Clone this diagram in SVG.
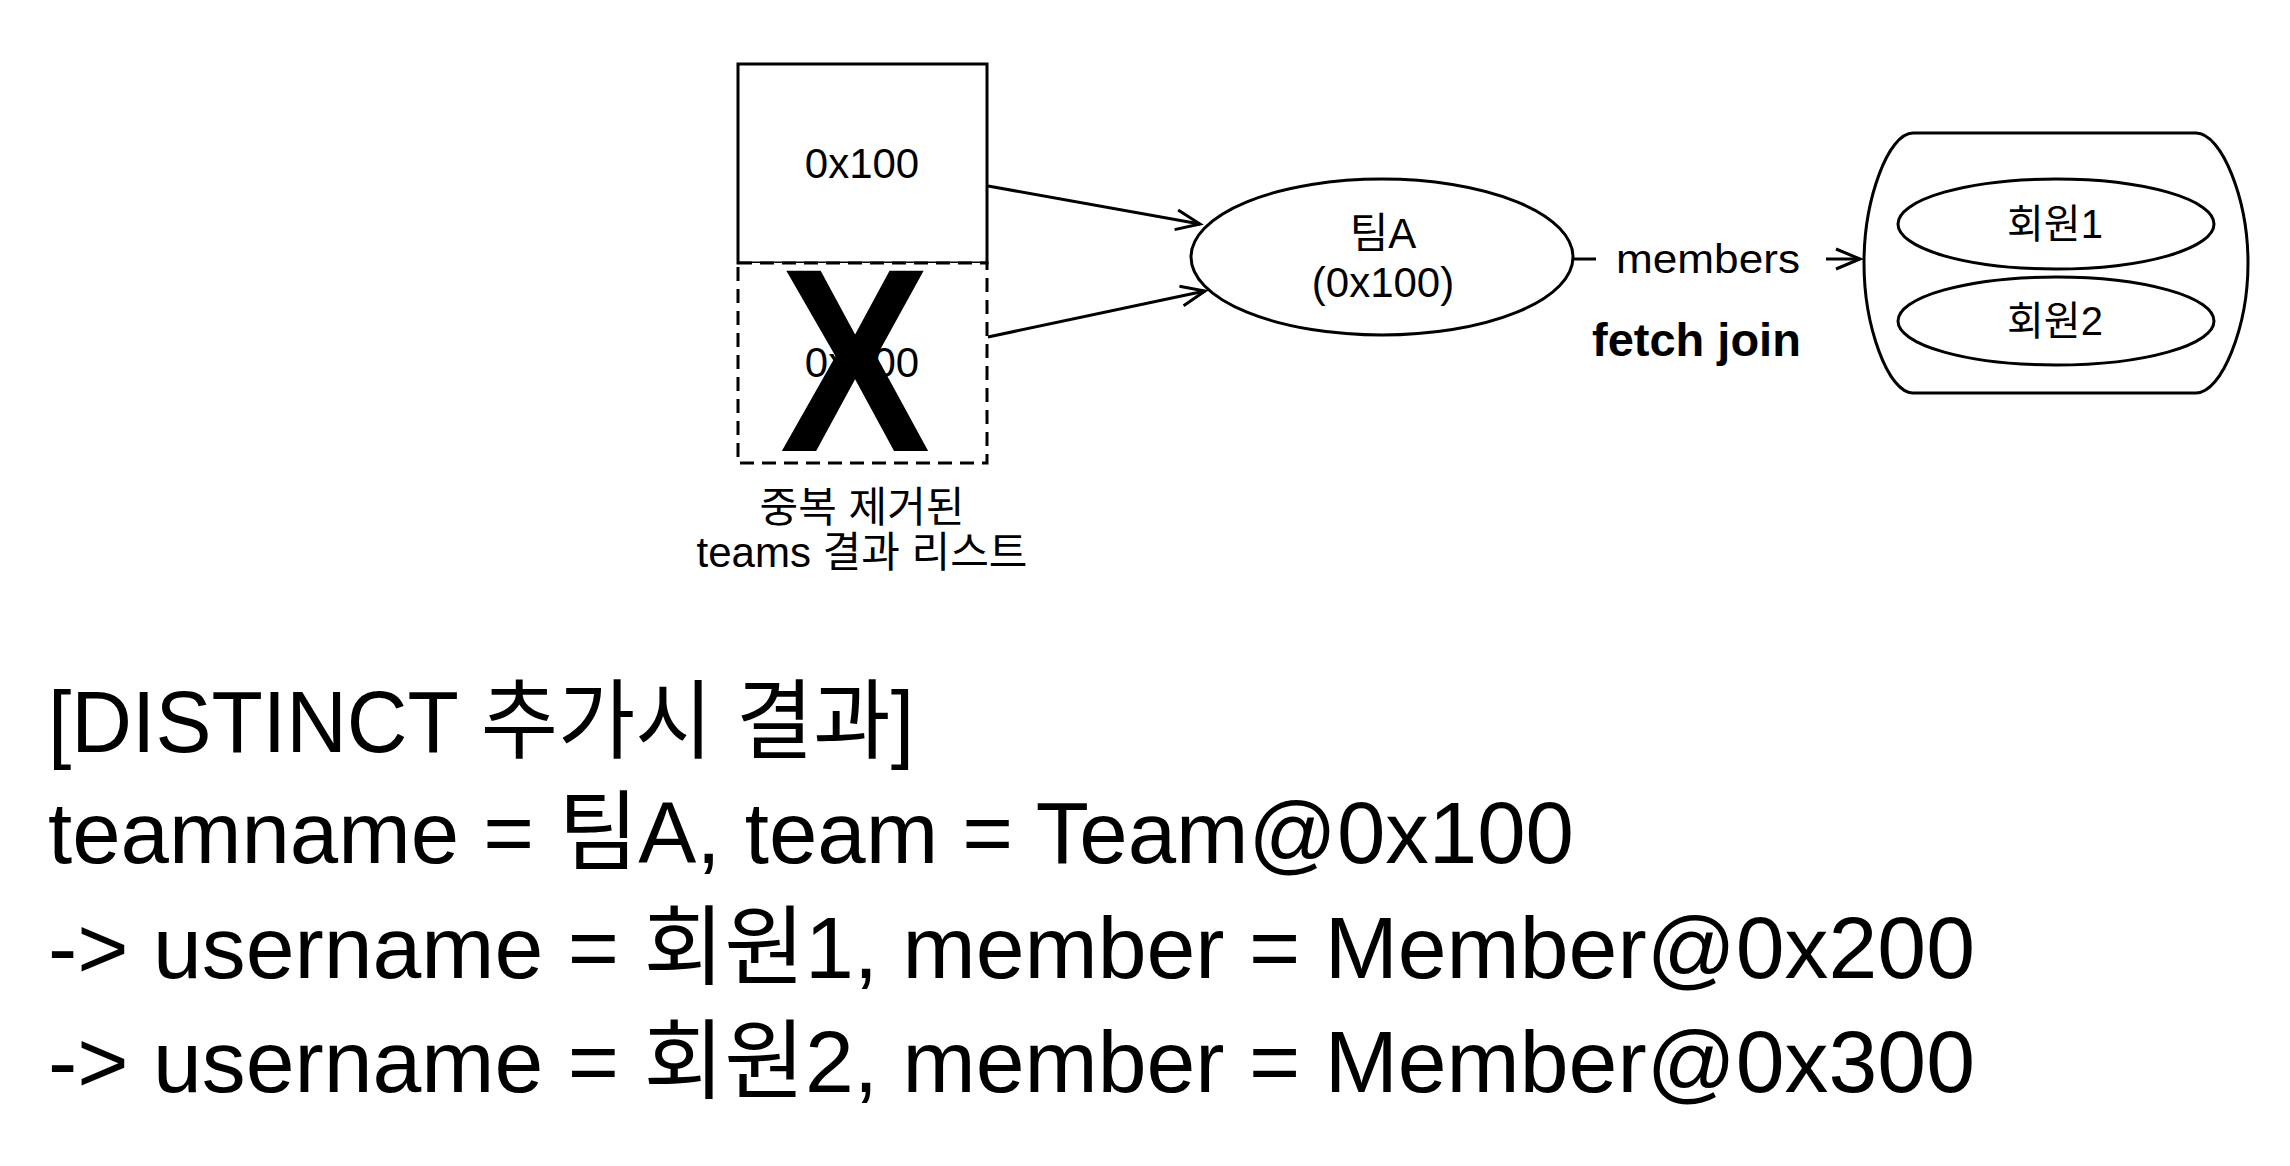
<svg xmlns="http://www.w3.org/2000/svg" width="2290" height="1166" viewBox="0 0 2290 1166">
<style>
text{font-family:"Liberation Sans","Noto Sans CJK KR",sans-serif;fill:#000}
.sh{fill:#fff;stroke:#000;stroke-width:3}
.ln{fill:none;stroke:#000;stroke-width:3}
.lab{font-size:42px;text-anchor:middle}
.big{font-size:87px}
</style>
<defs>
<marker id="arr" markerUnits="userSpaceOnUse" markerWidth="30" markerHeight="30" refX="26" refY="12" orient="auto" viewBox="0 0 30 24">
<path d="M2,2 L26,12 L2,22" fill="none" stroke="#000" stroke-width="3"/>
</marker>
</defs>
<rect width="2290" height="1166" fill="#fff"/>
<g id="box1">
<rect class="sh" x="738" y="64" width="249" height="199"/>
<text class="lab" x="862" y="178">0x100</text>
</g>
<g id="box2">
<rect class="sh" x="738" y="263" width="249" height="200" stroke-dasharray="14 8"/>
<text class="lab" x="862" y="377">0x100</text>
<text x="855" y="451" font-size="262" font-weight="bold" text-anchor="middle" transform="translate(855 0) scale(0.86 1) translate(-855 0)">X</text>
</g>
<g id="caption">
<text x="862" y="522" font-size="42" text-anchor="middle">중복 제거된</text>
<text x="862" y="567" font-size="42" text-anchor="middle">teams 결과 리스트</text>
</g>
<g id="teamA">
<ellipse class="sh" cx="1382" cy="257" rx="191" ry="78"/>
<text class="lab" x="1383" y="248">팀A</text>
<text class="lab" x="1383" y="297">(0x100)</text>
</g>
<g id="members">
<path class="sh" d="M1913,133 H2196 C2222,133 2248,200 2248,263 C2248,326 2222,393 2196,393 H1913 C1888,393 1864,326 1864,263 C1864,200 1888,133 1913,133 Z"/>
<ellipse class="sh" cx="2056" cy="224" rx="158" ry="45"/>
<text x="2055" y="238" font-size="40" text-anchor="middle">회원1</text>
<ellipse class="sh" cx="2056" cy="321" rx="158" ry="44"/>
<text x="2055" y="335" font-size="40" text-anchor="middle">회원2</text>
</g>
<g id="connectors">
<line class="ln" x1="988" y1="186" x2="1200" y2="224" marker-end="url(#arr)"/>
<line class="ln" x1="988" y1="337" x2="1205" y2="291" marker-end="url(#arr)"/>
<path class="ln" d="M1573,259 H1596 M1826,259 H1860" marker-end="url(#arr)"/>
<text x="1616" y="273" font-size="41" textLength="184" lengthAdjust="spacingAndGlyphs">members</text>
<text x="1592" y="356" font-size="47" font-weight="bold">fetch join</text>
</g>
<g id="result">
<text class="big" x="48" y="752" textLength="866" lengthAdjust="spacingAndGlyphs">[DISTINCT 추가시 결과]</text>
<text class="big" x="48" y="863" textLength="1526" lengthAdjust="spacingAndGlyphs">teamname = 팀A, team = Team@0x100</text>
<text class="big" x="48" y="978" textLength="1927" lengthAdjust="spacingAndGlyphs">-&gt; username = 회원1, member = Member@0x200</text>
<text class="big" x="48" y="1092" textLength="1927" lengthAdjust="spacingAndGlyphs">-&gt; username = 회원2, member = Member@0x300</text>
</g>
</svg>
